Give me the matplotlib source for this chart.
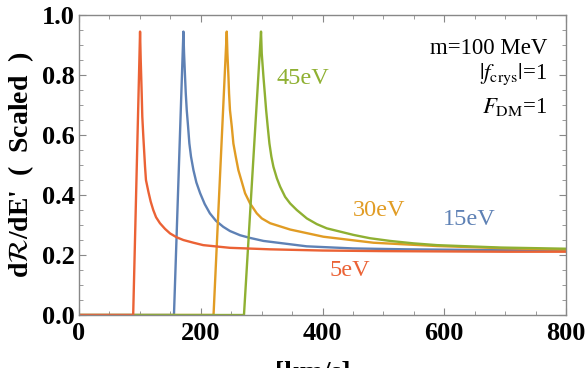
import numpy as np
import matplotlib
matplotlib.use("Agg")
import matplotlib.pyplot as plt
from matplotlib.ticker import MultipleLocator

plt.rcParams["mathtext.fontset"] = "stix"
plt.rcParams["font.family"] = ["Liberation Serif", "DejaVu Serif"]

# curves: (v [km/s], dR/dE scaled)
v_5ev = [0, 89, 100.3, 101.4, 103, 104, 105.7, 108.5, 110, 114, 117.8, 122, 126.6, 133, 141.4, 149.6,
         160.5, 171.5, 188, 204, 248, 314, 400, 500, 600, 700, 800]
r_5ev = [0, 0, 0.945, 0.85, 0.739, 0.661, 0.594, 0.494, 0.45, 0.411, 0.378, 0.35, 0.326, 0.306, 0.287, 0.272,
         0.259, 0.25, 0.241, 0.233, 0.224, 0.219, 0.215, 0.213, 0.212, 0.211, 0.211]

v_15ev = [0, 156, 171.5, 172.6, 174.2, 175.4, 177, 179.2, 181.3, 184, 188, 192.8, 199, 206.5, 215, 225,
          237, 248, 264.6, 281, 303, 374, 450, 538, 650, 800]
r_15ev = [0, 0, 0.945, 0.872, 0.794, 0.739, 0.683, 0.628, 0.572, 0.528, 0.483, 0.442, 0.406, 0.37, 0.339, 0.314,
          0.294, 0.28, 0.266, 0.257, 0.247, 0.229, 0.222, 0.219, 0.217, 0.215]

v_30ev = [0, 221, 242.7, 243.8, 245.5, 246.5, 248, 251, 253.6, 257.5, 261.8, 267.4, 272.8, 281, 292, 300.3,
          314, 346.8, 401.5, 483.7, 588, 692, 800]
r_30ev = [0, 0, 0.945, 0.872, 0.794, 0.739, 0.683, 0.628, 0.572, 0.528, 0.483, 0.444, 0.406, 0.372, 0.339, 0.322,
          0.306, 0.285, 0.261, 0.241, 0.23, 0.223, 0.218]

v_45ev = [0, 271, 299, 300.2, 303, 305.2, 307.4, 310, 312.8, 316, 319.4, 325, 330.4, 338.6, 346.8, 357.8,
          374.3, 390.7, 407, 429, 451, 478, 511, 549, 588, 692, 800]
r_45ev = [0, 0, 0.945, 0.872, 0.794, 0.739, 0.683, 0.628, 0.572, 0.528, 0.494, 0.456, 0.428, 0.394, 0.372, 0.35,
          0.322, 0.303, 0.289, 0.278, 0.267, 0.256, 0.247, 0.239, 0.233, 0.225, 0.221]

BLUE = "#5E81B5"
ORANGE = "#E19C24"
GREEN = "#8FB032"
RED = "#EB6235"

fig = plt.figure(figsize=(5.86, 3.68), dpi=100)
ax = fig.add_axes([0.1348, 0.144, 0.8311, 0.815])

ax.plot(v_15ev, r_15ev, color=BLUE, lw=1.7)
ax.plot(v_30ev, r_30ev, color=ORANGE, lw=1.7)
ax.plot(v_45ev, r_45ev, color=GREEN, lw=1.7)
ax.plot(v_5ev, r_5ev, color=RED, lw=1.7)

ax.set_xlim(0, 800)
ax.set_ylim(0, 1.0)
ax.xaxis.set_major_locator(MultipleLocator(200))
ax.xaxis.set_minor_locator(MultipleLocator(50))
ax.yaxis.set_major_locator(MultipleLocator(0.2))
ax.yaxis.set_minor_locator(MultipleLocator(0.05))
ax.yaxis.set_major_formatter(plt.FuncFormatter(lambda y, p: f"{y:.1f}"))
ax.tick_params(which="both", direction="in", top=True, right=True, color="#888888")
ax.tick_params(which="major", length=5, width=0.8, labelsize=19)
ax.tick_params(axis="y", which="major", pad=3)
ax.tick_params(axis="x", which="major", pad=5)
ax.tick_params(which="minor", length=3, width=0.6)
for lab in ax.get_xticklabels() + ax.get_yticklabels():
    lab.set_fontweight("bold")
for s in ax.spines.values():
    s.set_color("#888888")
    s.set_linewidth(1.0)

ax.set_ylabel(r"d$\mathcal{R}$/dE'  (  Scaled  )", fontsize=20, fontweight="bold", labelpad=4)
fig.text(275 / 586, 1 - 361 / 368, "[km/s]", fontsize=20, fontweight="bold", ha="left", va="top")

# curve labels
ax.text(325, 0.79, "45eV", color=GREEN, fontsize=17.5, va="center")
ax.text(449, 0.35, "30eV", color=ORANGE, fontsize=17.5, va="center")
ax.text(598, 0.317, "15eV", color=BLUE, fontsize=17.5, va="center")
ax.text(412, 0.15, "5eV", color=RED, fontsize=17.5, va="center")

# parameter box
ax.text(0.9616, 0.89, "m=100 MeV", transform=ax.transAxes, ha="right", va="center", fontsize=16.5)
ax.text(0.9616, 0.803, r"$|f_{\rm crys}|$=1", transform=ax.transAxes, ha="right", va="center", fontsize=16.5)
ax.text(0.9616, 0.693, r"$F_{\rm DM}$=1", transform=ax.transAxes, ha="right", va="center", fontsize=16.5)

fig.savefig("out.png", dpi=100)
